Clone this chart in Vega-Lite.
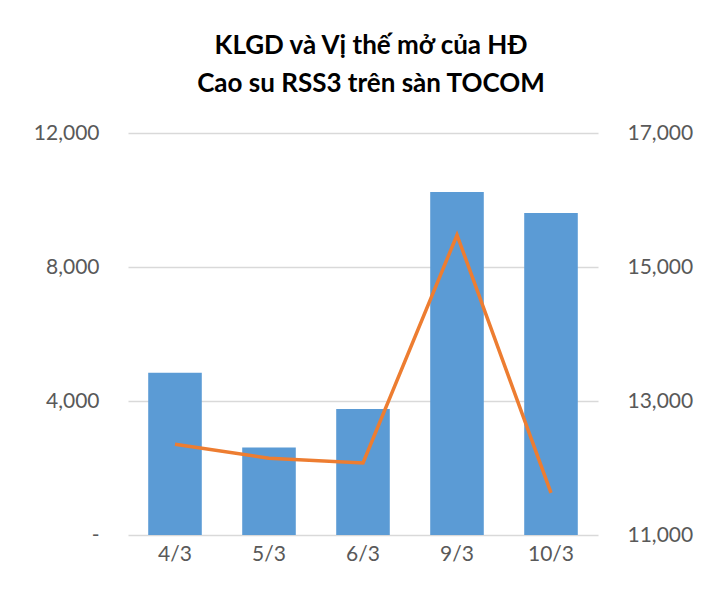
{
  "$schema": "https://vega.github.io/schema/vega-lite/v6.json",
  "autosize": "none",
  "width": 470,
  "height": 402,
  "padding": {"left": 128, "top": 133, "right": 107, "bottom": 55},
  "background": "white",
  "title": {
    "text": ["KLGD và Vị thế mở của HĐ", "Cao su RSS3 trên sàn TOCOM"],
    "font": "Lato",
    "fontSize": 26,
    "fontWeight": "bold",
    "color": "#000000",
    "lineHeight": 38,
    "anchor": "middle",
    "dx": 8,
    "offset": 25
  },
  "config": {
    "view": {"stroke": null},
    "axis": {
      "labelFont": "Lato",
      "labelFontSize": 21,
      "labelColor": "#595959",
      "ticks": false,
      "domain": false,
      "title": null
    }
  },
  "data": {
    "values": [
      {"date": "4/3", "klgd": 4840, "oi": 12354},
      {"date": "5/3", "klgd": 2610, "oi": 12145},
      {"date": "6/3", "klgd": 3760, "oi": 12075},
      {"date": "9/3", "klgd": 10240, "oi": 15478},
      {"date": "10/3", "klgd": 9610, "oi": 11630}
    ]
  },
  "encoding": {
    "x": {
      "field": "date",
      "type": "nominal",
      "sort": null,
      "scale": {"paddingInner": 0.43, "paddingOuter": 0.215},
      "axis": {"labelAngle": 0, "labelPadding": 8, "grid": false}
    }
  },
  "layer": [
    {
      "mark": {"type": "bar", "color": "#5B9BD5"},
      "encoding": {
        "y": {
          "field": "klgd",
          "type": "quantitative",
          "scale": {"domain": [0, 12000], "nice": false},
          "axis": {
            "orient": "left",
            "values": [0, 4000, 8000, 12000],
            "labelExpr": "datum.value == 0 ? '-' : format(datum.value, ',.0f')",
            "labelPadding": 29,
            "grid": true,
            "gridColor": "#d9d9d9",
            "gridWidth": 1.5,
            "encode": {"labels": {"update": {"dx": {"signal": "datum.value == 0 ? -12 : 0"}}}}
          }
        }
      }
    },
    {
      "mark": {"type": "line", "color": "#ED7D31", "strokeWidth": 3.5},
      "encoding": {
        "y": {
          "field": "oi",
          "type": "quantitative",
          "scale": {"domain": [11000, 17000], "nice": false, "zero": false},
          "axis": {
            "orient": "right",
            "values": [11000, 13000, 15000, 17000],
            "labelExpr": "format(datum.value, ',.0f')",
            "labelPadding": 29,
            "grid": false
          }
        }
      }
    }
  ],
  "resolve": {"scale": {"y": "independent"}}
}
